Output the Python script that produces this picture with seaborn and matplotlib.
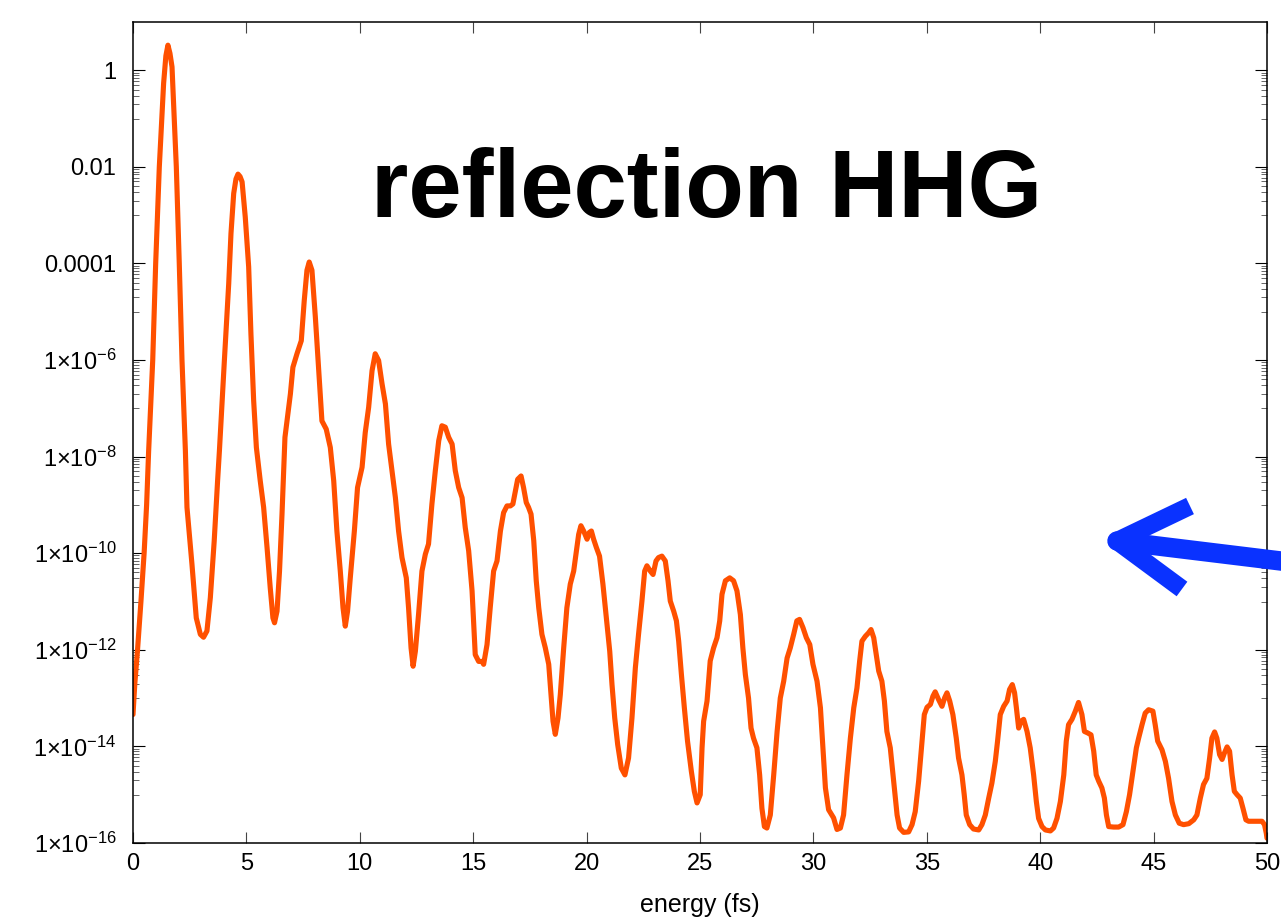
import numpy as np
import pandas as pd
import matplotlib
matplotlib.use("Agg")
import matplotlib.pyplot as plt
from matplotlib.lines import Line2D
from matplotlib.ticker import FixedLocator, FuncFormatter, NullFormatter
import seaborn as sns

# ---------------- data ----------------
energy = [
    0.00, 0.08, 0.20, 0.35, 0.49, 0.60, 0.69, 0.87, 1.00, 1.16, 1.35, 1.45, 1.54, 1.63, 1.72,
    1.91, 2.04, 2.16, 2.31, 2.38, 2.60, 2.79, 2.97, 3.11, 3.26, 3.41, 3.58, 3.73, 3.81,
    4.03, 4.22, 4.32, 4.44, 4.54, 4.63, 4.72, 4.81, 4.95, 5.10, 5.20, 5.32, 5.44,
    5.61, 5.76, 5.91, 6.05, 6.17, 6.24, 6.35, 6.46, 6.57, 6.70, 6.94, 7.05, 7.23,
    7.42, 7.55, 7.67, 7.77, 7.89, 8.04, 8.18, 8.33, 8.52, 8.70, 8.85, 8.99, 9.14,
    9.26, 9.36, 9.46, 9.58, 9.76, 9.90, 10.10, 10.24,
    10.39, 10.54, 10.68, 10.83, 10.98, 11.13, 11.27, 11.42, 11.57, 11.71, 11.86, 12.05,
    12.15, 12.26, 12.35, 12.45, 12.59, 12.74, 12.89, 13.03, 13.18, 13.33, 13.48, 13.62,
    13.77, 13.92, 14.07, 14.21, 14.36, 14.51, 14.65, 14.80, 14.95, 15.09, 15.24, 15.39,
    15.46, 15.61, 15.75, 15.90, 16.05, 16.20, 16.34, 16.49,
    16.64, 16.75, 16.86, 16.96, 17.11, 17.22, 17.34, 17.44, 17.55, 17.67, 17.78, 17.89,
    18.03, 18.18, 18.33, 18.43, 18.52, 18.62, 18.74, 18.84, 18.99, 19.13, 19.28, 19.43,
    19.55, 19.65, 19.75, 19.87, 20.02, 20.12, 20.21, 20.31, 20.43, 20.57, 20.72, 20.87,
    21.02, 21.12, 21.24, 21.37, 21.53, 21.69, 21.85, 22.00, 22.15, 22.29, 22.44, 22.56,
    22.66, 22.81, 22.93, 23.06, 23.17, 23.32, 23.47, 23.59, 23.69, 23.84, 23.96, 24.06,
    24.18, 24.31, 24.45, 24.62, 24.75, 24.87,
    25.01, 25.09, 25.16, 25.31, 25.38, 25.45, 25.60, 25.75, 25.87, 25.97, 26.12, 26.31,
    26.48, 26.63, 26.78, 26.89, 27.00, 27.14, 27.25, 27.36, 27.51, 27.63, 27.73, 27.84,
    27.95, 28.10, 28.25, 28.40, 28.54, 28.69, 28.84, 28.98, 29.13, 29.27, 29.39, 29.54,
    29.69, 29.84, 29.98, 30.16, 30.31, 30.42, 30.53, 30.67, 30.89, 31.04, 31.19, 31.33,
    31.48, 31.63, 31.78, 31.92, 32.04, 32.14, 32.29, 32.43, 32.54, 32.66, 32.77, 32.88,
    33.02, 33.13, 33.24, 33.39, 33.54, 33.69,
    33.80, 33.98, 34.20, 34.35, 34.49, 34.64, 34.79, 34.89, 35.01, 35.16, 35.27, 35.37,
    35.52, 35.67, 35.79, 35.89, 36.01, 36.15, 36.30, 36.40, 36.55, 36.65, 36.74, 36.89,
    37.06, 37.29, 37.43, 37.58, 37.73, 37.87, 38.02, 38.12, 38.24, 38.39, 38.54, 38.65,
    38.77, 38.87, 38.95, 39.05, 39.15, 39.27, 39.42, 39.56, 39.71, 39.83, 39.93, 40.08,
    40.23, 40.45, 40.59, 40.74, 40.89, 41.04, 41.15, 41.25, 41.40, 41.55, 41.69,
    41.84, 41.95, 42.09, 42.24, 42.36, 42.47, 42.58, 42.72, 42.83, 42.92, 43.02, 43.24,
    43.46, 43.65, 43.80, 43.94, 44.09, 44.24, 44.34, 44.49, 44.63, 44.78, 44.97, 45.07,
    45.18, 45.37, 45.52, 45.66, 45.81, 45.96, 46.13, 46.32, 46.55, 46.77, 46.91, 47.06,
    47.20, 47.35, 47.47, 47.57, 47.69, 47.79, 47.91, 48.02, 48.12, 48.24, 48.35, 48.46,
    48.56, 48.68, 48.82, 48.94, 49.07, 49.19, 49.41, 49.63, 49.78, 49.89, 49.97, 50.00,
]

log_intensity = [
    -13.34, -12.70, -12.00, -11.00, -10.00, -9.00, -7.88, -6.00, -4.00, -2.00, -0.27, 0.30, 0.52, 0.35, 0.07,
    -2.00, -4.00, -6.00, -7.88, -9.05, -10.23, -11.34, -11.68, -11.74, -11.61, -10.92, -9.75, -8.50, -7.88,
    -6.00, -4.42, -3.38, -2.55, -2.25, -2.15, -2.20, -2.31, -3.04, -4.07, -5.46, -6.84, -7.81,
    -8.50, -9.05, -9.88, -10.71, -11.34, -11.44, -11.20, -10.37, -9.19, -7.60, -6.70, -6.15, -5.87,
    -5.60, -4.77, -4.14, -3.97, -4.14, -5.11, -6.15, -7.26, -7.43, -7.81, -8.50, -9.54, -10.37,
    -11.13, -11.51, -11.20, -10.51, -9.54, -8.64, -8.22, -7.50,
    -6.98, -6.22, -5.87, -6.01, -6.49, -6.91, -7.74, -8.29, -8.85, -9.54, -10.09, -10.51,
    -11.13, -11.96, -12.34, -12.03, -11.27, -10.37, -10.02, -9.81, -8.98, -8.29, -7.67, -7.36,
    -7.39, -7.60, -7.74, -8.29, -8.64, -8.85, -9.47, -9.95, -10.78, -12.10, -12.24, -12.24,
    -12.30, -11.89, -11.13, -10.37, -10.16, -9.54, -9.16, -9.02,
    -9.02, -8.98, -8.71, -8.47, -8.40, -8.64, -8.95, -9.05, -9.19, -9.74, -10.57, -11.13,
    -11.68, -11.96, -12.30, -12.93, -13.48, -13.75, -13.41, -12.93, -11.96, -11.13, -10.64, -10.37,
    -9.95, -9.61, -9.43, -9.54, -9.71, -9.57, -9.54, -9.71, -9.88, -10.06, -10.64, -11.34,
    -12.03, -12.72, -13.41, -13.96, -14.45, -14.59, -14.24, -13.41, -12.37, -11.68, -10.99, -10.37,
    -10.26, -10.37, -10.44, -10.16, -10.09, -10.06, -10.16, -10.57, -10.99, -11.20, -11.40, -11.82,
    -12.51, -13.20, -13.89, -14.52, -14.93, -15.17,
    -15.00, -14.03, -13.48, -13.06, -12.65, -12.23, -11.96, -11.75, -11.40, -10.85, -10.57, -10.51,
    -10.57, -10.78, -11.27, -11.96, -12.51, -13.00, -13.62, -13.83, -14.03, -14.59, -15.28, -15.66,
    -15.69, -15.42, -14.59, -13.69, -13.00, -12.65, -12.17, -11.96, -11.68, -11.40, -11.37, -11.54,
    -11.75, -11.89, -12.30, -12.65, -13.20, -14.03, -14.86, -15.31, -15.48, -15.72, -15.69, -15.42,
    -14.59, -13.83, -13.20, -12.79, -12.23, -11.82, -11.72, -11.65, -11.58, -11.75, -12.10, -12.44,
    -12.65, -13.06, -13.69, -14.03, -14.72, -15.42,
    -15.69, -15.78, -15.77, -15.62, -15.35, -14.72, -13.89, -13.34, -13.19, -13.13, -12.96, -12.87,
    -13.03, -13.17, -12.99, -12.89, -13.06, -13.34, -13.83, -14.24, -14.59, -15.00, -15.42, -15.62,
    -15.71, -15.73, -15.62, -15.42, -15.07, -14.76, -14.31, -13.89, -13.34, -13.17, -13.06, -12.82,
    -12.72, -12.89, -13.20, -13.62, -13.48, -13.44, -13.69, -14.03, -14.59, -15.14, -15.49, -15.66,
    -15.73, -15.75, -15.69, -15.49, -15.14, -14.59, -13.89, -13.55, -13.44, -13.27, -13.09,
    -13.34, -13.69, -13.72, -13.76, -14.10, -14.59, -14.72, -14.86, -15.07, -15.42, -15.66, -15.67,
    -15.67, -15.62, -15.35, -15.00, -14.52, -14.03, -13.83, -13.55, -13.31, -13.24, -13.27, -13.55,
    -13.89, -14.07, -14.31, -14.66, -15.14, -15.42, -15.59, -15.62, -15.60, -15.52, -15.42, -15.07,
    -14.79, -14.66, -14.24, -13.83, -13.70, -13.83, -14.17, -14.27, -14.14, -14.01, -14.10, -14.59,
    -14.93, -15.00, -15.07, -15.28, -15.52, -15.55, -15.55, -15.55, -15.55, -15.62, -15.80, -15.90,
]

y_major_exponents = [0, -2, -4, -6, -8, -10, -12, -14, -16]
x_ticks = [0, 5, 10, 15, 20, 25, 30, 35, 40, 45, 50]
title_text = "reflection HHG"
x_label = "energy (fs)"

# ---------------- style ----------------
sns.set_style("white")
plt.rcParams["font.family"] = ["Liberation Sans", "DejaVu Sans"]
plt.rcParams["mathtext.fontset"] = "custom"
plt.rcParams["mathtext.rm"] = "Liberation Sans"
plt.rcParams["mathtext.it"] = "Liberation Sans:italic"
plt.rcParams["mathtext.bf"] = "Liberation Sans:bold"
plt.rcParams["text.color"] = "black"
plt.rcParams["axes.labelcolor"] = "black"
plt.rcParams["xtick.labelcolor"] = "black"
plt.rcParams["ytick.labelcolor"] = "black"

df = pd.DataFrame({"energy": energy, "intensity": 10.0 ** np.array(log_intensity)})

W, H = 1281, 919
fig = plt.figure(figsize=(W / 100, H / 100), dpi=100)
left, right, top, bottom = 133, 1267, 22, 843
ax = fig.add_axes([left / W, 1 - bottom / H, (right - left) / W, (bottom - top) / H])

sns.lineplot(data=df, x="energy", y="intensity", ax=ax, color="#ff5000",
             linewidth=3.7, sort=False, estimator=None)

ax.set_yscale("log")
ax.set_xlim(0, 50)
ax.set_ylim(1e-16, 10)

# y ticks
major_vals = [10.0 ** e for e in y_major_exponents]
minor_vals = [k * 10.0 ** e for e in range(-17, 0, 2) for k in range(1, 10)]
minor_vals = [v for v in minor_vals if 1e-16 < v < 1]
ax.yaxis.set_major_locator(FixedLocator(major_vals))
ax.yaxis.set_minor_locator(FixedLocator(minor_vals))
ax.yaxis.set_minor_formatter(NullFormatter())

def yfmt(v, pos):
    e = int(round(np.log10(v)))
    if e == 0:
        return "1"
    if e == -2:
        return "0.01"
    if e == -4:
        return "0.0001"
    return r"$1{\times}10^{%d}$" % e

ax.yaxis.set_major_formatter(FuncFormatter(yfmt))
ax.set_xticks(x_ticks)
ax.set_xticklabels([str(t) for t in x_ticks])

ax.tick_params(axis="y", which="major", direction="in", length=8.5, width=0.8,
               left=True, right=True, labelsize=17, pad=12, color="black",
               labelcolor="black")
ax.tick_params(axis="y", which="minor", direction="in", length=4.3, width=0.7,
               left=True, right=True, color="#666666")
ax.tick_params(axis="x", which="major", direction="in", length=8, width=0.8,
               bottom=True, top=True, labelsize=17, pad=7, color="#444444",
               labelcolor="black")
ax.tick_params(axis="x", which="minor", bottom=False, top=False)

for s in ax.spines.values():
    s.set_visible(True)
    s.set_linewidth(1.1)
    s.set_color("black")

ax.set_xlabel(x_label, fontsize=18, color="black")
ax.xaxis.label.set_va("baseline")
ax.xaxis.set_label_coords(0.5, -(912 - bottom) / (bottom - top))
ax.set_ylabel("")

ax.text(0.506, 0.762, title_text, transform=ax.transAxes, ha="center", va="baseline",
        fontsize=69, fontweight="bold", color="black")

# blue arrow (annotation)
def fp(px, py):
    return px / W, 1 - py / H

blue = "#0a32ff"
tip = fp(1117, 541)
up = fp(1190, 506)
low = fp(1182, 589)
tail = fp(1330, 567)
fig.add_artist(Line2D([tail[0], tip[0]], [tail[1], tip[1]], transform=fig.transFigure,
                      color=blue, lw=14, solid_capstyle="round"))
fig.add_artist(Line2D([up[0], tip[0], low[0]], [up[1], tip[1], low[1]], transform=fig.transFigure,
                      color=blue, lw=13, solid_capstyle="butt", solid_joinstyle="round"))

fig.savefig("out.png", dpi=100)
